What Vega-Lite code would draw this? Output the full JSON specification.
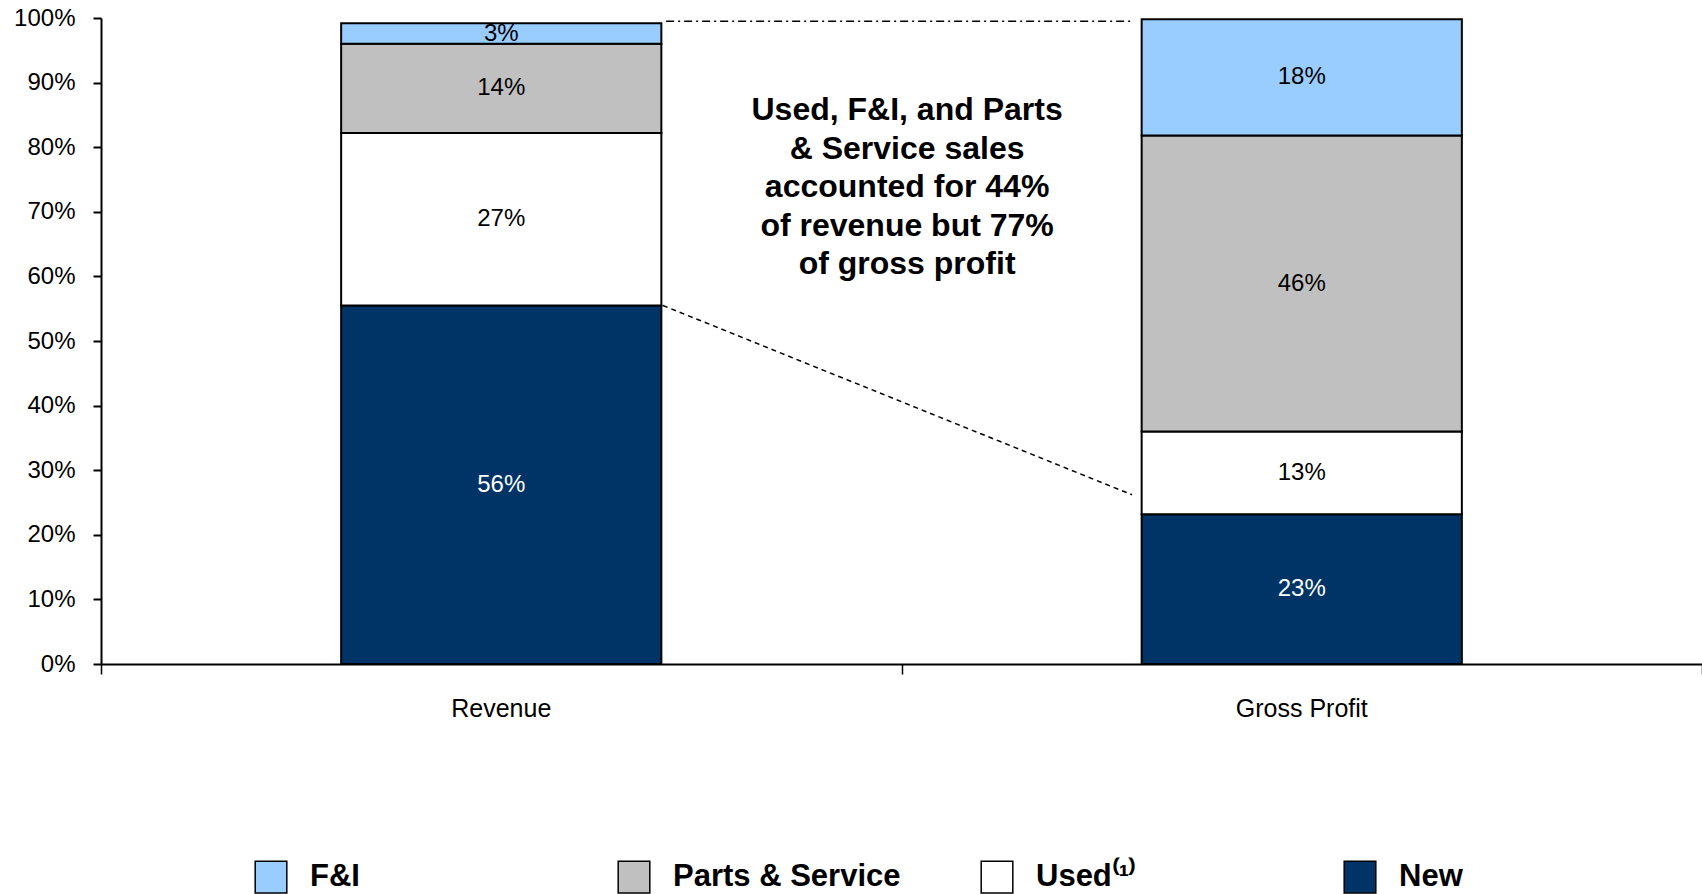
{
  "$schema": "https://vega.github.io/schema/vega-lite/v6.json",
  "width": 1601,
  "height": 646,
  "autosize": {"type": "none"},
  "padding": {"left": 101, "top": 18, "right": 0, "bottom": 230},
  "background": "white",
  "config": {"view": {"stroke": null}, "font": "Liberation Sans"},
  "datasets": {
    "shares": [
      {"metric": "Revenue", "segment": "New", "share": 55.5, "rank": 1},
      {"metric": "Revenue", "segment": "Used", "share": 26.7, "rank": 2},
      {"metric": "Revenue", "segment": "Parts & Service", "share": 13.8, "rank": 3},
      {"metric": "Revenue", "segment": "F&I", "share": 3.2, "rank": 4},
      {"metric": "Gross Profit", "segment": "New", "share": 23.2, "rank": 1},
      {"metric": "Gross Profit", "segment": "Used", "share": 12.8, "rank": 2},
      {"metric": "Gross Profit", "segment": "Parts & Service", "share": 45.8, "rank": 3},
      {"metric": "Gross Profit", "segment": "F&I", "share": 18.0, "rank": 4}
    ],
    "connectors": [
      {"x0": 0.702, "y0": 55.5, "x1": 1.288, "y1": 26.2, "kind": "dashed"},
      {"x0": 0.706, "y0": 99.5, "x1": 1.288, "y1": 99.5, "kind": "dashdot"}
    ]
  },
  "resolve": {"scale": {"x": "independent"}, "axis": {"x": "independent"}},
  "layer": [
    {
      "data": {"name": "shares"},
      "transform": [
        {"stack": "share", "groupby": ["metric"], "sort": [{"field": "rank", "order": "ascending"}], "as": ["v0", "v1"]},
        {"calculate": "(datum.v0 + datum.v1) / 2", "as": "mid"},
        {"calculate": "format(datum.share, '.0f') + '%'", "as": "lbl"}
      ],
      "encoding": {
        "x": {
          "field": "metric",
          "type": "nominal",
          "sort": ["Revenue", "Gross Profit"],
          "scale": {"paddingInner": 0.6, "paddingOuter": 0.3},
          "axis": {
            "orient": "bottom",
            "title": null,
            "labelAngle": 0,
            "labelFontSize": 25,
            "labelColor": "black",
            "labelPadding": 32,
            "domainColor": "black",
            "domainWidth": 2,
            "ticks": false
          }
        }
      },
      "layer": [
        {
          "mark": {"type": "bar", "stroke": "black", "strokeWidth": 2},
          "encoding": {
            "y": {
              "field": "v0",
              "type": "quantitative",
              "scale": {"domain": [0, 100], "nice": false},
              "axis": {
                "title": null,
                "values": [0, 10, 20, 30, 40, 50, 60, 70, 80, 90, 100],
                "labelExpr": "datum.value + '%'",
                "labelFontSize": 24,
                "labelColor": "black",
                "labelPadding": 18,
                "grid": false,
                "domainColor": "black",
                "domainWidth": 2,
                "tickColor": "black",
                "tickWidth": 2,
                "tickSize": 8
              }
            },
            "y2": {"field": "v1"},
            "color": {
              "field": "segment",
              "type": "nominal",
              "scale": {
                "domain": ["F&I", "Parts & Service", "Used", "New"],
                "range": ["#99CCFF", "#C0C0C0", "#FFFFFF", "#003366"]
              },
              "legend": {
                "title": null,
                "orient": "none",
                "legendX": 153,
                "legendY": 842,
                "direction": "horizontal",
                "columns": 4,
                "gridAlign": "all",
                "columnPadding": 77,
                "symbolType": "square",
                "symbolSize": 1000,
                "symbolStrokeWidth": 1.5,
                "labelFontSize": 31,
                "labelFontWeight": "bold",
                "labelColor": "black",
                "labelOffset": 22,
                "labelLimit": 400,
                "labelExpr": "datum.label === 'Used' ? 'Used⁽¹⁾' : datum.label",
                "encode": {
                  "symbols": {
                    "update": {
                      "stroke": {"signal": "datum.label === 'Used' ? 'black' : 'transparent'"},
                      "strokeWidth": {"value": 1.5}
                    }
                  }
                }
              }
            }
          }
        },
        {
          "mark": {"type": "text", "fontSize": 24, "align": "center", "baseline": "middle"},
          "encoding": {
            "y": {"field": "mid", "type": "quantitative"},
            "text": {"field": "lbl"},
            "color": {
              "condition": {"test": "datum.segment === 'New'", "value": "white"},
              "value": "black"
            }
          }
        }
      ]
    },
    {
      "encoding": {
        "x": {
          "type": "quantitative",
          "scale": {"domain": [0, 2], "nice": false, "zero": false},
          "axis": {
            "orient": "bottom",
            "title": null,
            "values": [0, 1, 2],
            "labels": false,
            "domain": false,
            "ticks": true,
            "tickColor": "black",
            "tickWidth": 1.5,
            "tickSize": 10,
            "grid": false
          }
        }
      },
      "layer": [
        {
          "data": {"name": "connectors"},
          "mark": {"type": "rule", "color": "black", "strokeWidth": 1.5},
          "encoding": {
            "x": {"field": "x0", "type": "quantitative"},
            "x2": {"field": "x1"},
            "y": {"field": "y0", "type": "quantitative"},
            "y2": {"field": "y1"},
            "strokeDash": {
              "field": "kind",
              "type": "nominal",
              "scale": {"domain": ["dashed", "dashdot"], "range": [[5, 4], [8, 4, 2, 4]]},
              "legend": null
            }
          }
        },
        {
          "data": {"values": [{"note": "summary"}]},
          "mark": {
            "type": "text",
            "text": ["Used, F&I, and Parts", "& Service sales", "accounted for 44%", "of revenue but 77%", "of gross profit"],
            "fontSize": 32,
            "fontWeight": "bold",
            "lineHeight": 38.5,
            "align": "center",
            "baseline": "middle",
            "color": "black"
          },
          "encoding": {
            "x": {"datum": 1.007, "type": "quantitative"},
            "y": {"datum": 85.7, "type": "quantitative"}
          }
        }
      ]
    }
  ]
}
